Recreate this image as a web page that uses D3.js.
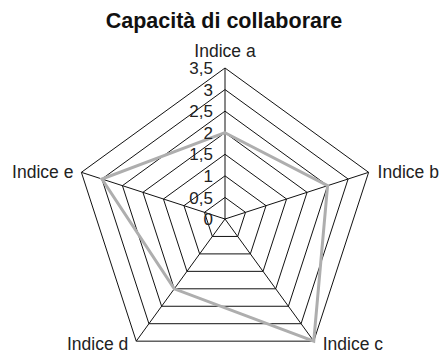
<!DOCTYPE html>
<html><head><meta charset="utf-8">
<script src="https://cdn.jsdelivr.net/npm/d3@7/dist/d3.min.js"></script>
<style>body{margin:0;background:#fff}svg{display:block}text{font-family:"Liberation Sans",Arial,sans-serif;fill:#222}</style>
</head><body><svg id="c" width="442" height="355"></svg>
<script>
const title = "Capacità di collaborare";
const categories = ["Indice a","Indice b","Indice c","Indice d","Indice e"];
const values = [2, 2.5, 3.5, 2, 3];
const tickValues = [0, 0.5, 1, 1.5, 2, 2.5, 3, 3.5];
const tickLabels = ["0","0,5","1","1,5","2","2,5","3","3,5"];

const svg = d3.select("#c");
const cx = 225, cy = 219, R = 151;
const r = d3.scaleLinear().domain([0, 3.5]).range([0, R]);
const n = categories.length;
const ang = i => i * 2 * Math.PI / n;
const pt = (i, v) => [cx + r(v) * Math.sin(ang(i)), cy - r(v) * Math.cos(ang(i))];

svg.append("text").attr("x", 224).attr("y", 28).attr("text-anchor", "middle")
  .style("font-size", "21.5px").style("font-weight", "bold").style("fill", "#111").text(title);

const grid = svg.append("g");
tickValues.filter(t => t > 0).forEach(t => {
  grid.append("path").attr("d", d3.line()(d3.range(n).map(i => pt(i, t))) + "Z")
    .attr("fill", "none").attr("stroke", "#111").attr("stroke-width", 1);
});
d3.range(n).forEach(i => {
  const p = pt(i, 3.5);
  grid.append("line").attr("x1", cx).attr("y1", cy).attr("x2", p[0]).attr("y2", p[1])
    .attr("stroke", "#111").attr("stroke-width", 1);
});

svg.append("path").attr("d", d3.line()(values.map((v, i) => pt(i, v))) + "Z")
  .attr("fill", "none").attr("stroke", "#aeaeae").attr("stroke-width", 3).attr("stroke-linejoin", "miter");

svg.append("g").selectAll("text").data(tickValues).join("text")
  .attr("x", cx - 12).attr("y", d => cy - r(d)).attr("dy", "0.36em")
  .attr("text-anchor", "end").style("font-size", "17px")
  .text((d, i) => tickLabels[i]);

const lab = svg.append("g").style("font-size", "17.5px");
categories.forEach((c, i) => {
  const p = pt(i, 3.5);
  const t = lab.append("text").text(c);
  if (i === 0) t.attr("x", p[0]).attr("y", p[1] - 11).attr("text-anchor", "middle");
  else if (i === 1) t.attr("x", p[0] + 9).attr("y", p[1]).attr("dy", "0.35em").attr("text-anchor", "start");
  else if (i === 4) t.attr("x", p[0] - 8).attr("y", p[1]).attr("dy", "0.35em").attr("text-anchor", "end");
  else if (i === 2) t.attr("x", p[0] + 9).attr("y", p[1] + 9).attr("text-anchor", "start");
  else t.attr("x", p[0] - 8).attr("y", p[1] + 9).attr("text-anchor", "end");
});
</script></body></html>
